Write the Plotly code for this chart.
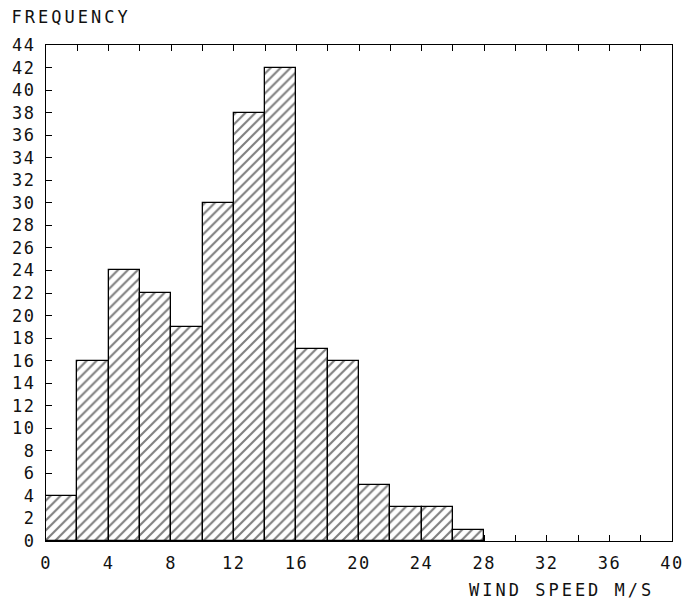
import plotly.graph_objects as go

bin_centers = [1, 3, 5, 7, 9, 11, 13, 15, 17, 19, 21, 23, 25, 27]
frequency = [4, 16, 24, 22, 19, 30, 38, 42, 17, 16, 5, 3, 3, 1]
x_ticks = [0, 4, 8, 12, 16, 20, 24, 28, 32, 36, 40]
y_ticks = list(range(0, 45, 2))

FONT = "DejaVu Sans Mono"

fig = go.Figure()
fig.add_trace(go.Bar(
    x=bin_centers, y=frequency, width=2,
    marker=dict(color="white",
                line=dict(color="black", width=1.3),
                pattern=dict(shape="/", size=7, solidity=0.3,
                             fgcolor="black", bgcolor="white")),
    showlegend=False,
))

fig.update_layout(
    width=686, height=602,
    margin=dict(l=46, r=14, t=45, b=61),
    paper_bgcolor="white", plot_bgcolor="white",
    font=dict(family=FONT, size=17, color="#111"),
    bargap=0,
    xaxis=dict(range=[0, 40], tickvals=x_ticks, ticks="inside", ticklen=6,
               tickwidth=1.2, tickcolor="black",
               minor=dict(dtick=2, tick0=0, ticks="inside", ticklen=6,
                          tickwidth=1.2, tickcolor="black"),
               showline=True, linecolor="black", linewidth=1.2,
               mirror="ticks", showgrid=False, zeroline=False,
               layer="below traces", ticklabelstandoff=6, automargin=False),
    yaxis=dict(range=[0, 44], tickvals=y_ticks, ticks="inside", ticklen=6,
               tickwidth=1.2, tickcolor="black",
               showline=True, linecolor="black", linewidth=1.2,
               mirror=True, showgrid=False, zeroline=False,
               layer="below traces", ticklabelstandoff=6, automargin=False),
    annotations=[
        dict(text="FREQUENCY", xref="paper", yref="paper", x=-0.0367, y=1.056,
             xanchor="left", yanchor="middle", showarrow=False,
             font=dict(family=FONT, size=17, color="#111")),
        dict(text="WIND SPEED M/S", xref="paper", yref="paper", x=0.941, y=-0.099,
             xanchor="right", yanchor="middle", showarrow=False,
             font=dict(family=FONT, size=17, color="#111")),
    ],
)

post = (
    "document.body.style.margin='0';"
    "document.body.style.overflow='hidden';"
    "document.querySelectorAll('.annotation-text').forEach(function(e){e.style.letterSpacing='3px';});"
    "document.querySelectorAll('.xtick text, .ytick text').forEach(function(e){e.style.letterSpacing='1.5px';});"
)
fig.write_html("out.html", config={"displayModeBar": False}, post_script=post)
